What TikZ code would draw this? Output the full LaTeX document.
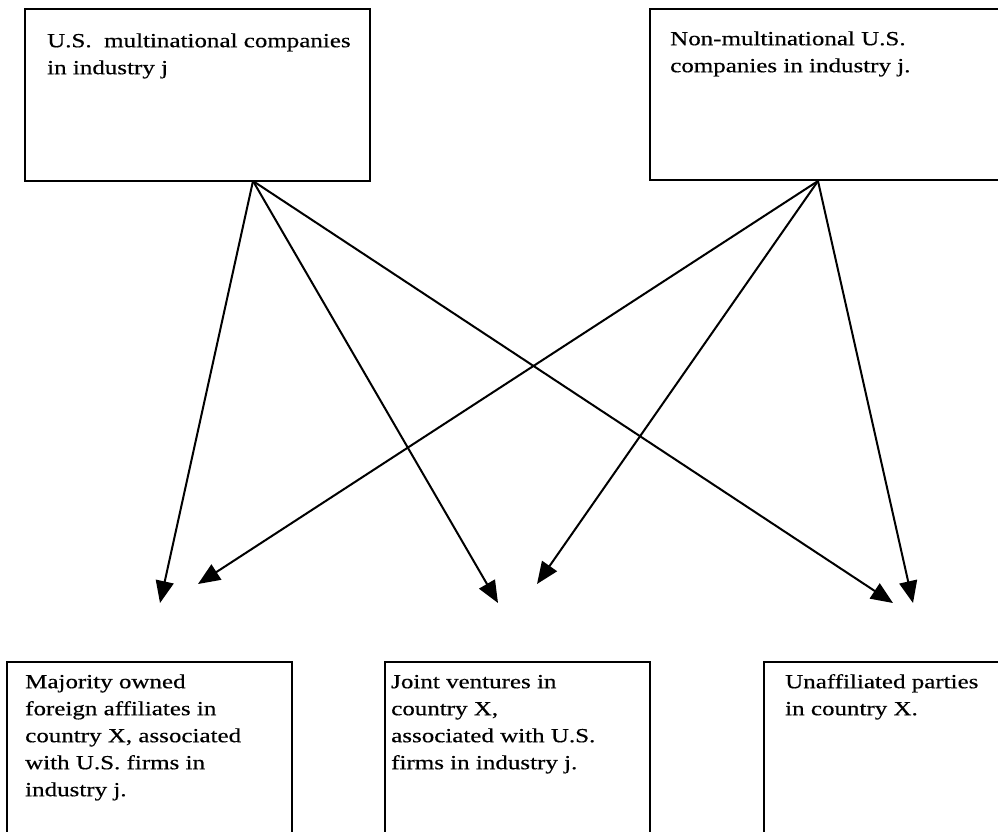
\documentclass[tikz,border=0pt]{standalone}
\usepackage{fontspec}
\setmainfont{Liberation Serif}[FakeStretch=1.25,FakeBold=0.5]
\usetikzlibrary{arrows.meta}
\begin{document}
\begin{tikzpicture}[x=1pt,y=-1pt,
  boxshape/.style={draw=black,line width=2pt,inner sep=0pt,outer sep=0pt},
  label text/.style={anchor=north west,inner sep=0pt,align=left,
    font=\fontsize{20}{27}\selectfont},
  flow/.style={line width=2pt,-{Triangle[length=22pt,width=18pt]}}]
\useasboundingbox (0,0) rectangle (998,831);
\begin{scope}
\clip (0,0) rectangle (998,831);
% top boxes
\node[boxshape,minimum width=345pt,minimum height=172pt,anchor=north west] (tl) at (25,9) {};
\node[boxshape,minimum width=360pt,minimum height=171pt,anchor=north west] (tr) at (650,9) {};
% bottom boxes
\node[boxshape,minimum width=285pt,minimum height=190pt,anchor=north west] (b1) at (7,662) {};
\node[boxshape,minimum width=265pt,minimum height=190pt,anchor=north west] (b2) at (385,662) {};
\node[boxshape,minimum width=250pt,minimum height=190pt,anchor=north west] (b3) at (764,662) {};
\end{scope}
% texts (first baseline = y + 18.9)
\node[label text] (tlt) at (47,28.1) {\strut U.S.\ \ multinational companies\\in industry j};
\node[label text] (trt) at (670,26.1) {\strut Non-multinational U.S.\\companies in industry j.};
\node[label text] (b1t) at (25,669.1) {\strut Majority owned\\foreign affiliates in\\country X, associated\\with U.S. firms in\\industry j.};
\node[label text] (b2t) at (391,669.1) {\strut Joint ventures in\\country X,\\associated with U.S.\\firms in industry j.};
\node[label text] (b3t) at (785,669.1) {\strut Unaffiliated parties\\in country X.};
% arrow sources and tips
\coordinate (s1) at (253,181);
\coordinate (s2) at (818,181);
\coordinate (t1) at (160,603);
\coordinate (t2) at (498,603);
\coordinate (t3) at (893,603);
\coordinate (t4) at (198,584);
\coordinate (t5) at (537,584);
\coordinate (t6) at (913,603);
\draw[flow] (s1) -- (t1);
\draw[flow] (s1) -- (t2);
\draw[flow] (s1) -- (t3);
\draw[flow] (s2) -- (t4);
\draw[flow] (s2) -- (t5);
\draw[flow] (s2) -- (t6);
\end{tikzpicture}
\end{document}
